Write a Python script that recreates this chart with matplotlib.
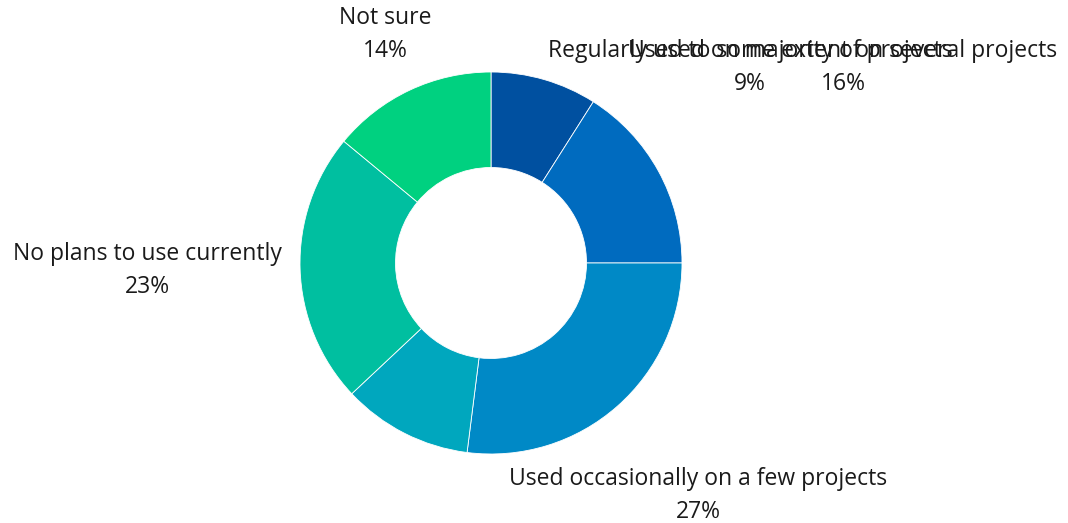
import numpy as np
import matplotlib.pyplot as plt

# data
labels = ['Regularly used on majority of projects', 'Used to some extent on several projects',
          'Used occasionally on a few projects', '', 'No plans to use currently', 'Not sure']
values = [9, 16, 27, 11, 23, 14]
colors = ['#0050A0', '#006BBF', '#0089C6', '#00A7BE', '#00BFA0', '#00D180']

# label centres (pie radius units)
label_pos = [(1.356, 1.026), (1.843, 1.026), (1.084, -1.215), None, (-1.80, -0.037), (-0.555, 1.194)]

plt.rcParams['font.family'] = ['Open Sans', 'DejaVu Sans']

fig = plt.figure(figsize=(10.68, 5.23), dpi=100)
ax = fig.add_axes([0, 0, 1, 1])
ax.pie(values, colors=colors, startangle=90, counterclock=False, radius=1,
       wedgeprops=dict(width=0.5, edgecolor='white', linewidth=0.6))

for lab, v, pos in zip(labels, values, label_pos):
    if not lab:
        continue
    ax.text(pos[0], pos[1], f'{lab}\n{v}%', ha='center', va='center',
            fontsize=16.5, color='#1a1a1a', linespacing=1.5)

ax.set_xlim(-491 / 191, (1068 - 491) / 191)
ax.set_ylim(-(523 - 263) / 191, 263 / 191)
ax.set_aspect('auto')
ax.axis('off')

fig.savefig('out.png', dpi=100)
